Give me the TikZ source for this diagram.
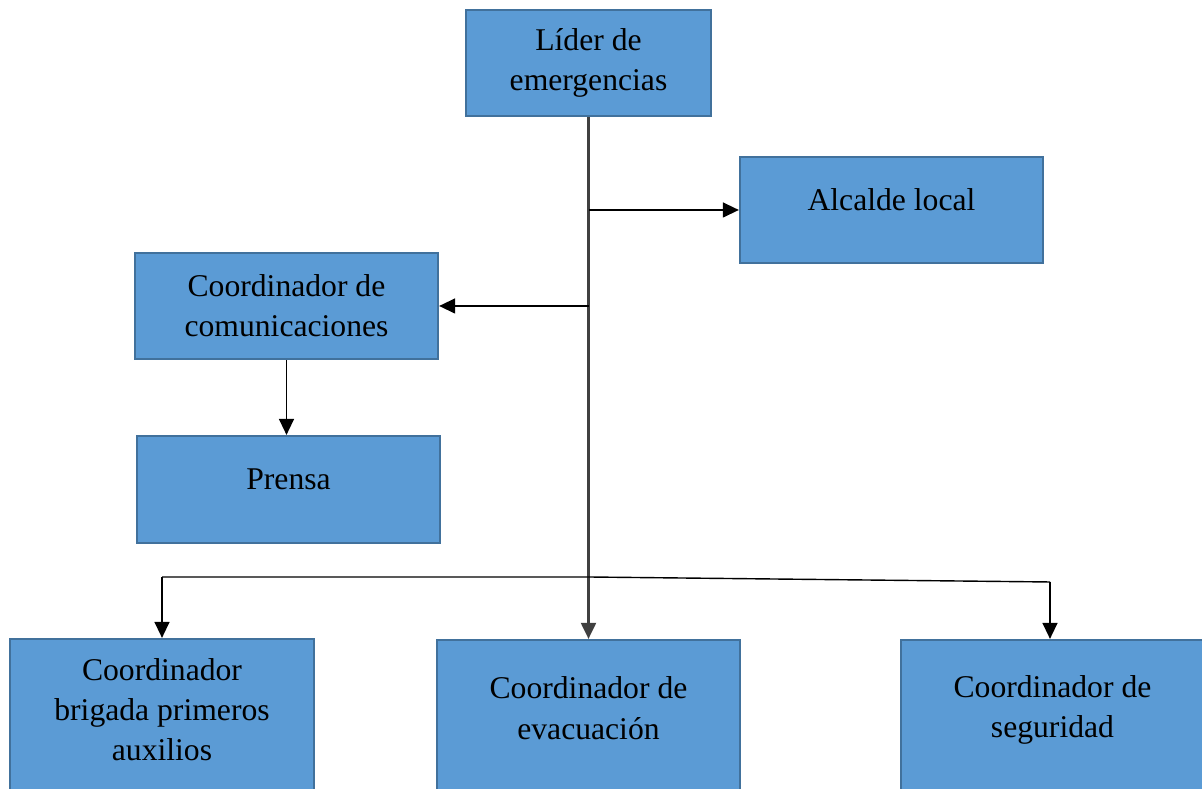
\documentclass[tikz,border=0pt]{standalone}
\usepackage{fontspec}
\setmainfont{Liberation Serif}
\usetikzlibrary{arrows.meta}
\definecolor{boxfill}{HTML}{5B9BD5}
\definecolor{boxline}{HTML}{41719C}

\begin{document}
\begin{tikzpicture}[x=0.01cm,y=-0.01cm,
  box/.style={draw=boxline, fill=boxfill, line width=0.6pt, minimum width=3.03cm, minimum height=1.06cm, inner sep=0pt},
  txt/.style={align=center, font=\fontsize{9}{11.4}\selectfont},
  tall/.style={minimum height=1.8cm},
  link/.style={line width=0.4pt, -{Triangle[length=1.6mm,width=1.5mm]}},
  trunk/.style={line width=0.6pt, black!75}]
\useasboundingbox (0,0) rectangle (1202,789);

\node[box, txt, minimum width=2.45cm] (lider) at (588.5,63) {Líder de\\emergencias};
\node[box, label={[txt, yshift=2.8pt]center:Alcalde local}] (alcalde) at (891.5,210) {};
\node[box, txt] (comunic) at (286.5,306) {Coordinador de\\comunicaciones};
\node[box, minimum height=1.07cm, label={[txt, yshift=2.8pt]center:Prensa}] (prensa) at (288.5,489.5) {};

\node[box, tall, label={[txt, yshift=5.4pt]center:Coordinador\\brigada primeros\\auxilios}] (brigada) at (162,729) {};
\node[box, tall, label={[txt, yshift=6.2pt]center:Coordinador de\\evacuación}] (evac) at (588.5,730) {};
\node[box, tall, label={[txt, yshift=5.6pt]center:Coordinador de\\seguridad}] (seguridad) at (1052.5,730) {};

% main line
\draw[trunk, -{Triangle[length=1.6mm,width=1.5mm]}] (lider.south) -- (evac.north);
\draw[link] (lider.south |- alcalde.west) -- (alcalde.west);
\draw[link] (lider.south |- comunic.east) -- (comunic.east);
\draw[link] (comunic.south) -- (comunic.south |- prensa.north);

% bottom branches
\coordinate (split) at (lider.south |- 0,577);
\coordinate (left) at (brigada.north |- 0,577);
\coordinate (right) at (1050,582);
\draw[line width=0.4pt] (left) -- (split) -- (right);
\draw[link] (left) -- (brigada.north);
\draw[link] (right) -- (right |- seguridad.north);
\end{tikzpicture}
\end{document}
